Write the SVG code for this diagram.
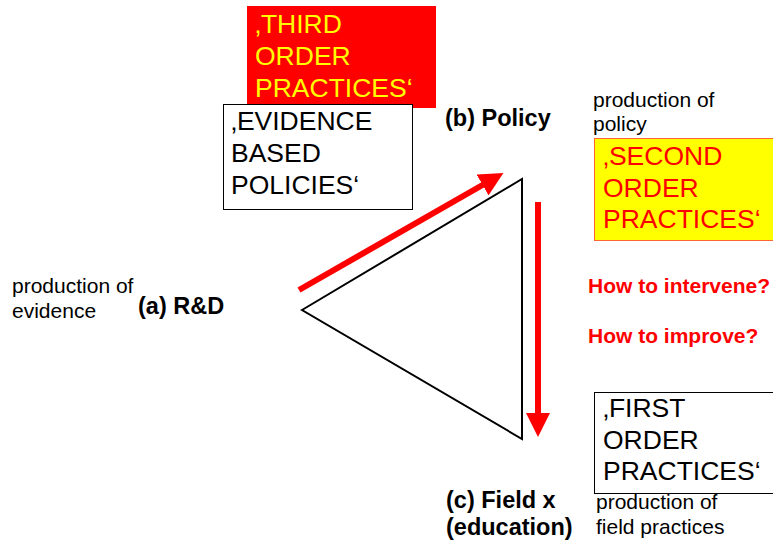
<svg xmlns="http://www.w3.org/2000/svg" width="773" height="545" viewBox="0 0 773 545">
<style>
text{font-family:"Liberation Sans",Arial,sans-serif}
.big{font-size:26.5px}
.lbl{font-size:23.5px;font-weight:bold;fill:#000}
.sm{font-size:21px;fill:#000}
.q{font-size:21px;font-weight:bold;fill:#ff0000}
</style>
<defs>
<marker id="ah" markerWidth="4" markerHeight="4" refX="2" refY="2" orient="auto" markerUnits="strokeWidth">
<path d="M0,0 L4,2 L0,4 Z" fill="#ff0000"/>
</marker>
</defs>
<rect width="773" height="545" fill="#fff"/>
<g id="triangle">
<polygon points="302,310 522,179 522,439" fill="none" stroke="#000" stroke-width="2"/>
</g>
<g id="connectors">
<line x1="299" y1="290" x2="493" y2="179" stroke="#ff0000" stroke-width="6" marker-end="url(#ah)"/>
<line x1="538" y1="202" x2="538" y2="425" stroke="#ff0000" stroke-width="6" marker-end="url(#ah)"/>
</g>
<g id="third">
<rect x="247" y="6" width="189" height="102" fill="#ff0000"/>
<text class="big" fill="#ffff00"><tspan x="255" y="33">‚THIRD</tspan><tspan x="255" y="65">ORDER</tspan><tspan x="255" y="97">PRACTICES‘</tspan></text>
</g>
<g id="evidence">
<rect x="223.5" y="104.5" width="189" height="105" fill="#fff" stroke="#000" stroke-width="1"/>
<text class="big" fill="#000"><tspan x="231" y="130">‚EVIDENCE</tspan><tspan x="231" y="162">BASED</tspan><tspan x="231" y="194">POLICIES‘</tspan></text>
</g>
<g id="policy">
<text class="lbl" x="445" y="126">(b) Policy</text>
<text class="sm"><tspan x="593" y="107">production of</tspan><tspan x="593" y="131">policy</tspan></text>
</g>
<g id="second">
<rect x="594.5" y="138.5" width="185" height="102" fill="#ffff00" stroke="#ff6633" stroke-width="1"/>
<text class="big" fill="#ff0000"><tspan x="603" y="165">‚SECOND</tspan><tspan x="603" y="197">ORDER</tspan><tspan x="603" y="228">PRACTICES‘</tspan></text>
</g>
<g id="rd">
<text class="sm"><tspan x="12" y="293">production of</tspan><tspan x="12" y="318">evidence</tspan></text>
<text class="lbl" x="138" y="314">(a) R&amp;D</text>
</g>
<g id="questions">
<text class="q" x="588" y="293">How to intervene?</text>
<text class="q" x="588" y="343">How to improve?</text>
</g>
<g id="first">
<rect x="594.5" y="392.5" width="185" height="101" fill="#fff" stroke="#000" stroke-width="1"/>
<text class="big" fill="#000"><tspan x="603" y="417">‚FIRST</tspan><tspan x="603" y="449">ORDER</tspan><tspan x="603" y="480">PRACTICES‘</tspan></text>
</g>
<g id="field">
<text class="lbl"><tspan x="446" y="508">(c) Field x</tspan><tspan x="446" y="535">(education)</tspan></text>
<text class="sm"><tspan x="596" y="509">production of</tspan><tspan x="596" y="534">field practices</tspan></text>
</g>
</svg>
